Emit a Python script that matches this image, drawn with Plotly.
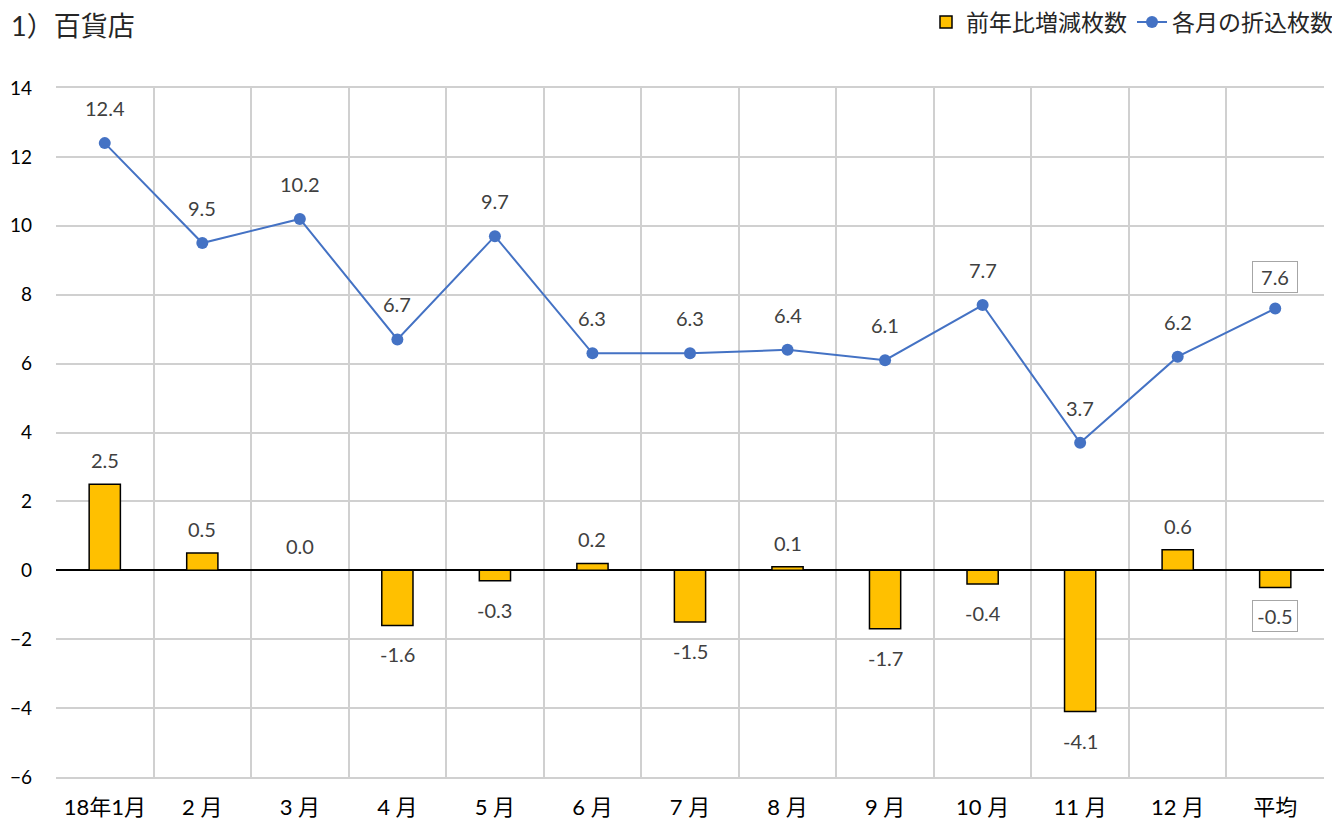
import plotly.graph_objects as go

categories = ["18年1月", "2 月", "3 月", "4 月", "5 月", "6 月", "7 月", "8 月", "9 月", "10 月", "11 月", "12 月", "平均"]
bar_values = [2.5, 0.5, 0.0, -1.6, -0.3, 0.2, -1.5, 0.1, -1.7, -0.4, -4.1, 0.6, -0.5]
line_values = [12.4, 9.5, 10.2, 6.7, 9.7, 6.3, 6.3, 6.4, 6.1, 7.7, 3.7, 6.2, 7.6]
bar_name = "前年比増減枚数"
line_name = "各月の折込枚数"
title_text = "1）百貨店"

FONT = "Lato, Noto Sans CJK JP, sans-serif"
LABEL_COLOR = "#404040"
OFF = 8  # page body margin offset
L, R, T, B = 56 - OFF, 16 + OFF, 88 - OFF, 43 + OFF
W, H = 1340, 820
PW, PH = W - L - R, H - T - B


def label(c, v, shift, boxed):
    d = dict(
        x=c, y=v, xref="x", yref="y", text=f"{v:.1f}", showarrow=False,
        yshift=shift, font=dict(family=FONT, size=20, color=LABEL_COLOR),
    )
    if boxed:
        d.update(bordercolor="#A6A6A6", borderwidth=1, borderpad=2,
                 bgcolor="white", width=40, height=26)
    return d


fig = go.Figure()
fig.add_trace(go.Bar(
    x=categories, y=bar_values, name=bar_name,
    marker=dict(color="#FFC000", line=dict(color="#000000", width=1.5)),
))
fig.add_trace(go.Scatter(
    x=categories, y=line_values, name=line_name, mode="lines+markers",
    line=dict(color="#4472C4", width=2),
    marker=dict(color="#4472C4", size=12),
))

annotations = []
last = len(categories) - 1
for i, (c, v) in enumerate(zip(categories, line_values)):
    boxed = i == last
    annotations.append(label(c, v, 31 if boxed else 35, boxed))
for i, (c, v) in enumerate(zip(categories, bar_values)):
    boxed = i == last
    if v >= 0:
        shift = 24
    else:
        shift = -28 if boxed else -29
    annotations.append(label(c, v, shift, boxed))

fig.update_layout(
    width=W, height=H,
    margin=dict(l=L, r=R, t=T, b=B, autoexpand=False),
    paper_bgcolor="white", plot_bgcolor="white",
    bargap=0.68,
    title=dict(text=title_text, x=3 / W, xref="container", xanchor="left",
               y=1 - 19 / H, yref="container", yanchor="middle",
               font=dict(family=FONT, size=27, color="#262626")),
    showlegend=True,
    legend=dict(orientation="h", x=1.0 + 14 / PW, xanchor="right", y=1 + (T - (22 - OFF)) / PH,
                yanchor="middle",
                font=dict(family=FONT, size=23, color="#262626"),
                traceorder="normal", bgcolor="rgba(0,0,0,0)"),
    annotations=annotations,
    font=dict(family=FONT),
)
fig.update_xaxes(
    type="category", tickson="boundaries", showgrid=True, gridcolor="#D0D0D0", gridwidth=1.5,
    ticks="", tickfont=dict(family=FONT, size=22, color="#000000"), ticklabelstandoff=10,
    showline=True, linecolor="#D0D0D0", linewidth=1.5, mirror=True,
    range=[-0.5, 12.5],
)
fig.update_yaxes(
    range=[-6, 14], dtick=2, tick0=0, showgrid=True, gridcolor="#D0D0D0", gridwidth=1.5,
    zeroline=True, zerolinecolor="#000000", zerolinewidth=1.5,
    tickfont=dict(family=FONT, size=19, color="#000000"), ticks="", ticklabelstandoff=23,
)
fig.write_html("out.html")
